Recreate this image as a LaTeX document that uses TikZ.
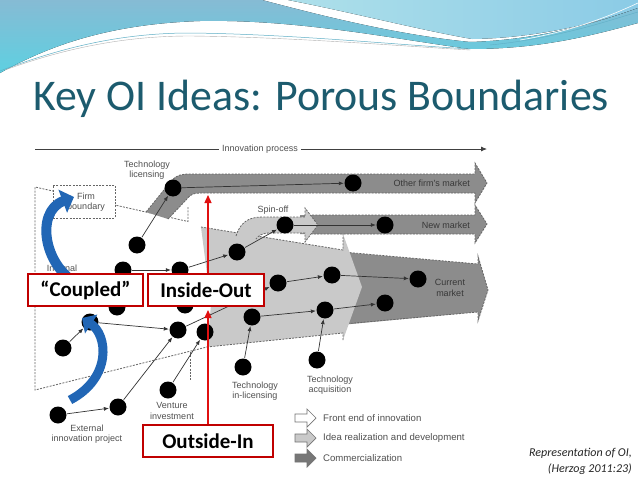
\documentclass[tikz,border=0pt]{standalone}
\usepackage{fontspec}
\setmainfont{Carlito}
\newfontfamily\diag{Liberation Sans}
\usetikzlibrary{arrows.meta,shapes.geometric}
\definecolor{hdrUa}{HTML}{AEE0EA}
\definecolor{hdrUb}{HTML}{8BCBE6}
\definecolor{hdrBa}{HTML}{86BBD4}
\definecolor{hdrBb}{HTML}{5ED0E1}
\definecolor{hdrLine}{HTML}{5FAFC6}
\definecolor{titleC}{HTML}{1C5B6E}
\definecolor{ltg}{HTML}{C9C9C9}
\definecolor{dkg}{HTML}{8C8C8C}
\definecolor{lblC}{HTML}{505050}
\definecolor{boxRed}{HTML}{C00000}
\definecolor{arrRed}{HTML}{E01010}
\definecolor{arrBlue}{HTML}{2166B5}
\tikzset{
  bdot/.style={circle,fill=black,minimum size=17pt,inner sep=0pt},
  flow/.style={draw=black!80,line width=0.7pt,-{Latex[length=5pt,width=4pt]},shorten >=0.5pt,shorten <=0.5pt},
  bnd/.style={draw=black!60,line width=0.8pt,dash pattern=on 2pt off 1.3pt},
  lbl/.style={font=\diag\fontsize{9}{10.5}\selectfont,text=lblC,align=center,inner sep=0pt},
  leg/.style={font=\diag\fontsize{9.6}{11}\selectfont,text=lblC,anchor=west,inner sep=0pt},
  redbox/.style={draw=boxRed,line width=1.6pt,fill=white,font=\bfseries\fontsize{21}{24}\selectfont,inner sep=0pt,minimum height=32pt},
  redarr/.style={draw=arrRed,line width=1.3pt,-{Triangle[length=8pt,width=7pt]}},
  bluearr/.style={draw=arrBlue,line cap=butt},
}
\begin{document}
\begin{tikzpicture}[x=1pt,y=-1pt]
\useasboundingbox (0,0) rectangle (638,479);
\fill[white] (0,0) rectangle (638,479);
% ---------- header ----------
\fill[left color=hdrUa,right color=hdrUb] (288,0) -- (638,0) -- (638,8) .. controls (600,22) and (540,38) .. (472,39) .. controls (420,30) and (350,12) .. (288,0) -- cycle;
\fill[top color=hdrBa,bottom color=hdrBb] (0,0) -- (262,0) .. controls (330,18) and (400,35) .. (470,42) .. controls (540,40) and (600,22) .. (638,8) -- (638,23) .. controls (590,36) and (540,49) .. (470,49) .. controls (400,40) and (300,19) .. (200,21) .. controls (110,24) and (50,45) .. (0,73) -- cycle;
\draw[hdrLine,line width=0.5pt] (0,71) .. controls (60,48) and (120,33) .. (190,33) .. controls (290,34) and (400,45) .. (470,49);
\draw[black!30,line width=0.4pt] (5,70) .. controls (60,50) and (120,36) .. (190,36) .. controls (290,37) and (400,46) .. (470,50);
\draw[white,line width=0.6pt] (520,40) .. controls (570,32) and (610,16) .. (638,3);
\draw[hdrLine,line width=0.4pt] (490,45) .. controls (560,38) and (610,20) .. (638,12);
% ---------- title ----------
\node[anchor=base west,inner sep=0pt,text=titleC,font=\fontsize{43.8}{48}\selectfont] (title) at (33,110) {Key OI Ideas: Porous Boundaries};
% ---------- innovation process ----------
\node[lbl,fill=white,inner xsep=3pt,inner ysep=1pt] (ip) at (260,149) {Innovation process};
\coordinate (ipL) at (35,149);
\coordinate (ipR) at (487,149);
\draw[black!75,line width=0.8pt] (ipL) -- (ip.west);
\draw[black!75,line width=0.8pt,-{Latex[length=6pt,width=5pt]}] (ip.east) -- (ipR);
% ---------- white (front end) arrow outline ----------
\draw[bnd] (188,207) -- (188,221.5) -- (35,187) -- (35,390) -- (207,347);
\draw[bnd] (190,352) -- (190,380);
% ---------- commercialization region ----------
\fill[dkg] (330,251) -- (478,264) -- (478,256) -- (488,290) -- (478,321) -- (478,312) -- (330,326) -- cycle;
\draw[bnd] (343,252) -- (478,264) -- (478,256) -- (488,290) -- (478,321) -- (478,312) -- (343,324);
% ---------- other firm's market band ----------
\fill[dkg] (146,212) -- (172,180) .. controls (177,175) and (182,174) .. (190,174) -- (475,174) -- (475,163) -- (487,183) -- (475,203) -- (475,193) -- (200,193) .. controls (193,193) and (190,195) .. (186,200) -- (168,219) -- cycle;
\draw[bnd] (146,212) -- (172,180) .. controls (177,175) and (182,174) .. (190,174) -- (475,174) -- (475,163) -- (487,183) -- (475,203) -- (475,193) -- (200,193) .. controls (193,193) and (190,195) .. (186,200) -- (168,219);
% ---------- new market band ----------
\fill[dkg] (300,215) -- (475,215) -- (475,205) -- (487,224) -- (475,243) -- (475,234) -- (300,234) -- cycle;
\draw[bnd] (312,215) -- (475,215) -- (475,205) -- (487,224) -- (475,243) -- (475,234) -- (312,234);
% ---------- idea realization region ----------
\fill[ltg] (201,227) -- (343,250) -- (343,234) -- (362,287) -- (343,340) -- (343,333) -- (207,347) -- (211,305) -- cycle;
\draw[bnd] (201,227) -- (343,250) -- (343,234);
\draw[bnd] (343,340) -- (343,333) -- (207,347);
% ---------- spin-off band ----------
\fill[ltg] (236,236) .. controls (240,223) and (248,217) .. (262,217) -- (305,217) -- (305,208) -- (318,225) -- (305,242) -- (305,233) -- (270,233) .. controls (262,233) and (258,236) .. (256,239) -- cycle;
\draw[bnd] (236,236) .. controls (240,223) and (248,217) .. (262,217) -- (305,217) -- (305,208) -- (318,225) -- (305,242) -- (305,233) -- (270,233) .. controls (262,233) and (258,236) .. (256,239);
% ---------- firm boundary box ----------
\node[bnd,fill=white,minimum width=62pt,minimum height=33pt,inner sep=0pt] (fb) at (84,201.5) {};
\node[lbl] (fbt) at (86,202) {Firm\\boundary};
% ---------- dots ----------
\node[bdot] (dTL) at (173,188) {};
\node[bdot] (dA) at (137,245) {};
\node[bdot] (dInt) at (123,270) {};
\node[bdot] (dB) at (180,270) {};
\node[bdot] (dC) at (237,252) {};
\node[bdot] (dSpin) at (285,225) {};
\node[bdot] (dD) at (185,305) {};
\node[bdot] (dE) at (278,283) {};
\node[bdot] (dF) at (332,275) {};
\node[bdot] (dG) at (252,317) {};
\node[bdot] (dH) at (325,310) {};
\node[bdot] (dI) at (117,307) {};
\node[bdot] (dJ) at (90,322) {};
\node[bdot] (dK) at (63,348) {};
\node[bdot] (dL) at (178,330) {};
\node[bdot] (dM) at (205,332) {};
\node[bdot] (dCur) at (418,279) {};
\node[bdot] (dN) at (385,303) {};
\node[bdot] (dOther) at (353,183) {};
\node[bdot] (dNew) at (385,225) {};
\node[bdot] (dAcq) at (317,360) {};
\node[bdot] (dInl) at (243,367) {};
\node[bdot] (dVen) at (168,390) {};
\node[bdot] (dO) at (118,407) {};
\node[bdot] (dExt) at (58,415) {};
% ---------- flows ----------
\draw[flow] (dA) -- (dTL);
\draw[flow] (dTL) -- (dOther);
\draw[flow] (dSpin) -- (dNew);
\draw[flow] (dInt) -- (dB);
\draw[flow] (dB) -- (dC);
\draw[flow] (dC) -- (dSpin);
\draw[flow] (dL) -- (dE);
\draw[flow] (dE) -- (dF);
\draw[flow] (dG) -- (dH);
\draw[flow] (dF) -- (dCur);
\draw[flow] (dH) -- (dN);
\draw[flow] (dInl) -- (dG);
\draw[flow] (dAcq) -- (dH);
\draw[flow] (dJ) -- (dL);
\draw[flow] (dK) -- (dJ);
\draw[flow] (dO) -- (dL);
\draw[flow] (dExt) -- (dO);
\draw[flow] (dVen) -- (dM);
% ---------- labels ----------
\node[lbl] (lTL) at (147,170) {Technology\\licensing};
\node[lbl] (lSpin) at (273,210) {Spin-off};
\node[lbl,anchor=east,text=black!78] (lOther) at (470,183) {Other firm's market};
\node[lbl,anchor=east,text=black!78] (lNew) at (470,225) {New market};
\node[lbl,text=black!78] (lCur) at (450,288) {Current\\market};
\node[lbl] (lInt) at (62,268) {Internal};
\node[lbl] (lInl) at (255,391) {Technology\\in-licensing};
\node[lbl] (lAcq) at (330,385) {Technology\\acquisition};
\node[lbl] (lVen) at (172,411) {Venture\\investment};
\node[lbl] (lExt) at (87,434) {External\\innovation project};
% ---------- legend ----------
\draw[black!55,line width=0.7pt,fill=white] (295,414) -- (307,414) -- (307,409) -- (316,418) -- (307,427) -- (307,422) -- (295,422) -- cycle;
\draw[black!55,line width=0.7pt,fill=ltg] (295,434) -- (307,434) -- (307,429) -- (316,438) -- (307,447) -- (307,442) -- (295,442) -- cycle;
\draw[black!55,line width=0.7pt,fill=dkg!85!black] (295,454) -- (307,454) -- (307,449) -- (316,458) -- (307,467) -- (307,462) -- (295,462) -- cycle;
\node[leg] (lg1) at (323,418) {Front end of innovation};
\node[leg] (lg2) at (323,438) {Idea realization and development};
\node[leg] (lg3) at (323,458) {Commercialization};
% ---------- blue coupled arrows ----------
\draw[bluearr,line width=10pt,-{Triangle[length=12pt,width=24pt]}] (82,286) .. controls (44,270) and (34,212) .. (74,197);
\draw[bluearr,line width=9pt,-{Triangle[length=11pt,width=22pt]}] (70,400) .. controls (112,378) and (108,335) .. (82,318);
% ---------- red boxes ----------
\node[redbox,minimum width=115pt] (cp) at (85.5,290) {“Coupled”};
\node[redbox,minimum width=116pt] (io) at (206,290) {Inside-Out};
\node[redbox,minimum width=130pt] (oi) at (208,441) {Outside-In};
\coordinate (ioTip) at (208,195);
\coordinate (oiTip) at (208,310);
\draw[redarr] (io.north -| ioTip) -- (ioTip);
\draw[redarr] (oi.north) -- (oiTip);
% ---------- citation ----------
\node[anchor=base east,inner sep=0pt,font=\itshape\fontsize{12}{14}\selectfont,text=black!85] (cit1) at (632,456) {Representation of OI,};
\node[anchor=base east,inner sep=0pt,font=\itshape\fontsize{12}{14}\selectfont,text=black!85] (cit2) at (632,472) {(Herzog 2011:23)};
\end{tikzpicture}
\end{document}
